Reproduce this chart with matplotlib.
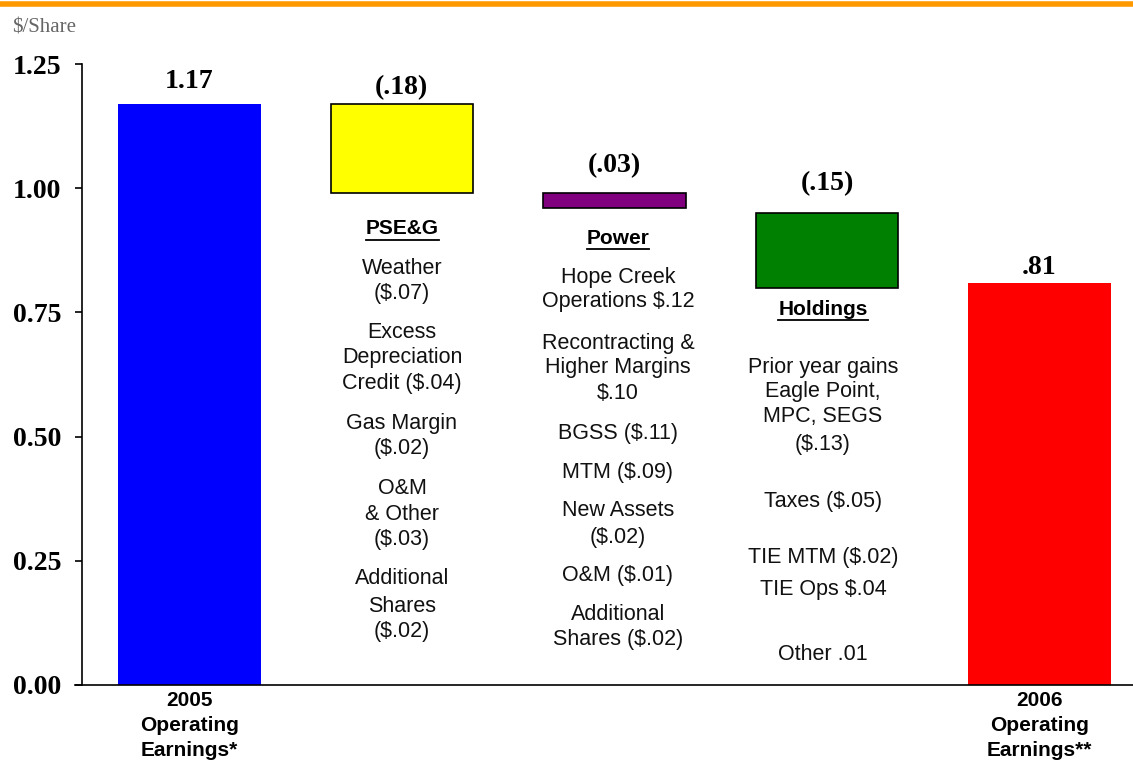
import matplotlib.pyplot as plt
from matplotlib.lines import Line2D

# waterfall values ($/share)
categories = ["2005\nOperating\nEarnings*", "PSE&G", "Power", "Holdings", "2006\nOperating\nEarnings**"]
bar_bottoms = [0.0, 0.99, 0.96, 0.80, 0.0]
bar_tops = [1.17, 1.17, 0.99, 0.95, 0.81]
value_labels = ["1.17", "(.18)", "(.03)", "(.15)", ".81"]
bar_colors = ["#0000FF", "#FFFF00", "#800080", "#008000", "#FF0000"]
bar_edges = ["none", "black", "black", "black", "none"]
x_tick_labels = [categories[0], "", "", "", categories[4]]

pse_lines = ["Weather", "($.07)", "Excess", "Depreciation", "Credit ($.04)",
             "Gas Margin", "($.02)", "O&M", "& Other", "($.03)",
             "Additional", "Shares", "($.02)"]
power_lines = ["Hope Creek", "Operations $.12", "Recontracting &", "Higher Margins", "$.10",
               "BGSS ($.11)", "MTM ($.09)", "New Assets", "($.02)", "O&M ($.01)",
               "Additional", "Shares ($.02)"]
holdings_lines = ["Prior year gains", "Eagle Point,", "MPC, SEGS", "($.13)",
                  "Taxes ($.05)", "TIE MTM ($.02)", "TIE Ops $.04", "Other .01"]

# layout (pixel rows of the 1133x763 canvas)
W, H = 1133, 763
label_offsets = [0.044, 0.033, 0.056, 0.060, 0.031]
pse_y = [267, 292, 331, 356, 381, 422, 447, 487, 512, 538, 577, 604, 630]
power_y = [276, 300, 341, 366, 391, 432, 470, 509, 535, 574, 613, 638]
holdings_y = [365, 389, 414, 442, 499, 555, 587, 653]
heads = [("PSE&G", 402, 229), ("Power", 618, 238), ("Holdings", 823, 309)]
TEXT_SHIFT = 2

SERIF = "Liberation Serif"
SANS = "Liberation Sans"

fig = plt.figure(figsize=(W / 100, H / 100), dpi=100)
ax = fig.add_axes([82 / W, 1 - 685 / H, 1 - 82 / W, (685 - 64) / H])

xs = list(range(len(categories)))
heights = [t - b for t, b in zip(bar_tops, bar_bottoms)]
ax.bar(xs, heights, bottom=bar_bottoms, width=0.67, color=bar_colors,
       edgecolor=bar_edges, linewidth=1.2, zorder=2)

for x, top, lab, off in zip(xs, bar_tops, value_labels, label_offsets):
    ax.text(x, top + off, lab, ha="center", va="center", fontsize=20,
            fontweight="bold", family=SERIF)

ax.set_xlim(-0.505, 4.44)
ax.set_ylim(0, 1.25)
ax.set_yticks([0, 0.25, 0.5, 0.75, 1.0, 1.25])
ax.set_yticklabels([f"{v:.2f}" for v in [0, 0.25, 0.5, 0.75, 1.0, 1.25]],
                   fontsize=20, fontweight="bold", family=SERIF)
ax.tick_params(axis="y", direction="out", length=5, width=1.2, pad=10)
ax.set_xticks(xs)
ax.set_xticklabels(x_tick_labels, fontsize=15, fontweight="bold", family=SANS,
                   linespacing=1.4)
ax.tick_params(axis="x", length=0, pad=4)
for side in ["top", "right"]:
    ax.spines[side].set_visible(False)
ax.spines["left"].set_linewidth(1.2)
ax.spines["bottom"].set_linewidth(1.2)
ax.spines["bottom"].set_bounds(-0.54, 4.44)
ax.spines["bottom"].set_clip_on(False)


def fy(py):
    return 1 - py / H


def column(lines, ys, cx):
    for txt, py in zip(lines, ys):
        fig.text(cx / W, fy(py + TEXT_SHIFT), txt, ha="center", va="center",
                 fontsize=15.5, family=SANS, color="#111111")


column(pse_lines, pse_y, 402)
column(power_lines, power_y, 618)
column(holdings_lines, holdings_y, 823)

# underlined segment headings
head_texts = []
for name, cx, py in heads:
    t = fig.text(cx / W, fy(py), name, ha="center", va="center", fontsize=15,
                 fontweight="bold", family=SANS)
    head_texts.append(t)

fig.canvas.draw()
renderer = fig.canvas.get_renderer()
for t in head_texts:
    bb = t.get_window_extent(renderer).transformed(fig.transFigure.inverted())
    yline = bb.y0 - 1.5 / H
    fig.add_artist(Line2D([bb.x0, bb.x1], [yline, yline], color="black",
                          linewidth=1.3, transform=fig.transFigure))

fig.text(12 / W, fy(28), "$/Share", ha="left", va="center", fontsize=15,
         family=SERIF, color="#666666")

# orange rule along the top
fig.add_artist(Line2D([0, 1], [fy(4), fy(4)], color="#FF9900", linewidth=4,
                      transform=fig.transFigure))

fig.savefig("out.png", dpi=100)
